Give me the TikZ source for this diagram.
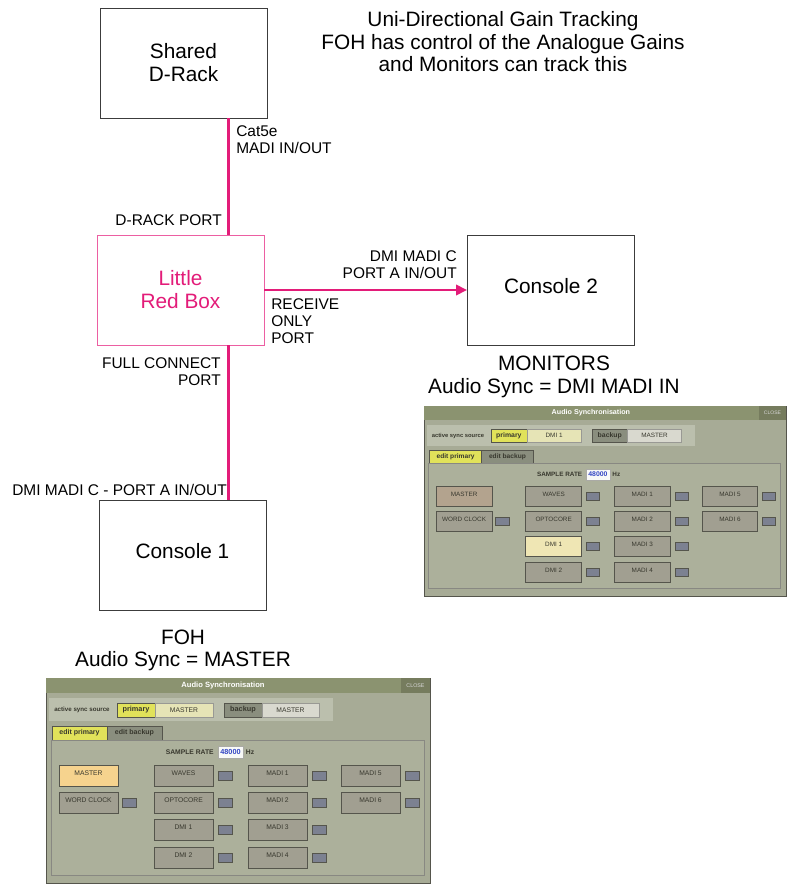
\documentclass[tikz,border=0pt]{standalone}
\usepackage{fontspec}
\setmainfont{Liberation Sans}
\usetikzlibrary{positioning,arrows.meta}
\definecolor{lrbpink}{HTML}{E31C79}
\definecolor{lrbedge}{HTML}{EC5FA2}
\definecolor{boxedge}{HTML}{3C3C3C}
\definecolor{sptitle}{HTML}{8B9370}
\definecolor{spclose}{HTML}{767C5E}
\definecolor{spbody}{HTML}{A7AB96}
\definecolor{sprow}{HTML}{BBBFAD}
\definecolor{spinner}{HTML}{ACB09B}
\definecolor{spbtn}{HTML}{A19F91}
\definecolor{spedge}{HTML}{55554C}
\definecolor{spled}{HTML}{7C8191}
\definecolor{spyellow}{HTML}{E1E25A}
\definecolor{sppale}{HTML}{E6E4B6}
\definecolor{spgrey}{HTML}{D9D9CF}
\definecolor{spdark}{HTML}{8A8E7E}
\definecolor{sptan}{HTML}{B3A38E}
\definecolor{sporange}{HTML}{F6D38E}
\definecolor{spcream}{HTML}{EFE6B4}
\definecolor{sptext}{HTML}{38382E}
\definecolor{spblue}{HTML}{3346C4}
\tikzset{
  unit/.style={draw=boxedge,line width=0.65pt,minimum width=4.175cm,minimum height=2.75cm,
               align=center,font=\fontsize{14.8}{16.4}\selectfont},
  link/.style={draw=lrbpink,line width=1.5pt},
  tag/.style={inner sep=0pt,font=\fontsize{11}{12.1}\selectfont},
  heading/.style={inner sep=0pt,align=center,font=\fontsize{14.8}{16}\selectfont},
  sptiny/.style={inner sep=0pt,text=sptext,font=\fontsize{4.8}{5}\selectfont},
}
% #1,#2 top left, #3,#4 scale, #5 primary source, #6 MASTER fill, #7 DMI 1 fill, #8 name prefix
\newcommand{\syncpanel}[8]{%
  \begin{scope}[shift={(#1,#2)},xscale=#3,yscale=#4,transform shape]
  % frame and title bar
  \filldraw[fill=spbody,draw=spedge,line width=0.4pt] (0,0) rectangle (384,205);
  \fill[sptitle] (0,0) rectangle (384,15);
  \fill[spclose] (355,0) rectangle (384,15);
  \node[sptiny,text=white,font=\fontsize{5.4}{6}\selectfont\bfseries] (#8title) at (177,7.5){Audio Synchronisation};
  \node[sptiny,text=white!85!black,font=\fontsize{3.8}{4}\selectfont] (#8close) at (369.5,7.5){CLOSE};
  % active sync source
  \fill[sprow] (3,20) rectangle (287,43);
  \node[sptiny,anchor=west,font=\fontsize{4.4}{5}\selectfont\bfseries] (#8src) at (8,32){active sync source};
  \filldraw[fill=spyellow,draw=spedge,line width=0.4pt] (71,25) rectangle (109,39);
  \filldraw[fill=sppale,draw=spedge!60,line width=0.3pt] (109,25) rectangle (167,39);
  \filldraw[fill=spdark,draw=spedge,line width=0.4pt] (178,25) rectangle (216,39);
  \filldraw[fill=spgrey,draw=spedge!60,line width=0.3pt] (216,25) rectangle (273,39);
  \node[sptiny,font=\fontsize{5.2}{6}\selectfont\bfseries] (#8pri) at (90,32){primary};
  \node[sptiny] (#8prisrc) at (138,32){#5};
  \node[sptiny,font=\fontsize{5.2}{6}\selectfont\bfseries] (#8bak) at (197,32){backup};
  \node[sptiny] (#8baksrc) at (244.5,32){MASTER};
  % tabs
  \filldraw[fill=spyellow,draw=spedge,line width=0.4pt] (6,48) rectangle (61,62);
  \filldraw[fill=spdark,draw=spedge,line width=0.4pt] (61,48) rectangle (116,62);
  \node[sptiny,font=\fontsize{5}{6}\selectfont\bfseries] (#8tabp) at (33.5,55){edit primary};
  \node[sptiny,font=\fontsize{5}{6}\selectfont\bfseries] (#8tabb) at (88.5,55){edit backup};
  % inner panel
  \filldraw[fill=spinner,draw=spedge!70,line width=0.4pt] (5,62) rectangle (378,197);
  \node[sptiny,anchor=east,font=\fontsize{4.8}{5}\selectfont\bfseries] (#8rate) at (168,74){SAMPLE RATE};
  \filldraw[fill=white!92!spinner,draw=spedge!50,line width=0.3pt] (172,68) rectangle (197,80);
  \node[sptiny,text=spblue,font=\fontsize{5.2}{6}\selectfont\bfseries] (#8hz) at (184.5,74){48000};
  \node[sptiny,font=\fontsize{4.8}{5}\selectfont\bfseries] (#8unit) at (204,74){Hz};
  % source buttons
  \foreach \bx/\by/\bl/\bc [count=\bi] in {13/87/MASTER/#6, 13/114/WORD CLOCK/spbtn,
      108/87/WAVES/spbtn, 108/114/OPTOCORE/spbtn, 108/141/DMI 1/#7, 108/169/DMI 2/spbtn,
      202/87/MADI 1/spbtn, 202/114/MADI 2/spbtn, 202/141/MADI 3/spbtn, 202/169/MADI 4/spbtn,
      295/87/MADI 5/spbtn, 295/114/MADI 6/spbtn}{
    \filldraw[fill=\bc,draw=spedge,line width=0.5pt] (\bx,\by) rectangle ++(59,21);
    \node[sptiny] (#8b\bi) at (\bx+29.5,\by+8.5){\bl};}
  \foreach \lx/\ly in {76/114, 172/87, 172/114, 172/141, 172/169,
      266/87, 266/114, 266/141, 266/169, 359/87, 359/114}{
    \filldraw[fill=spled,draw=spedge,line width=0.4pt] (\lx,\ly+6) rectangle ++(14,9);}
  \end{scope}}

\begin{document}
\begin{tikzpicture}[x=0.025cm,y=-0.025cm]
  \fill[white] (0,0) rectangle (787,887);
  \useasboundingbox (0,0) rectangle (787,887);
  % ---------- units ----------
  \node[unit] (drack) at (183.5,63) {Shared\\D-Rack};
  \node[unit,draw=lrbedge,line width=0.6pt,text=lrbpink] (lrb) at (180.5,290) {Little\\Red Box};
  \node[unit] (con2) at (551,290) {\raisebox{6pt}{Console 2}};
  \node[unit] (con1) at (182.5,555) {\raisebox{6pt}{Console 1}};
  % ---------- links ----------
  \coordinate (tap) at (228.5,0);
  \draw[link] (drack.south -| tap) -- (lrb.north -| tap);
  \draw[link] (lrb.south -| tap) -- (con1.north -| tap);
  \draw[link,-{Triangle[length=7.8pt,width=7.4pt]}] (lrb.east) -- (con2.west);
  % ---------- port labels ----------
  \node[tag,anchor=west,align=left] (cable) at (236,139.5) {Cat5e\\MADI IN/OUT};
  \node[tag,anchor=east] (drport) at (222,220) {D-RACK PORT};
  \node[tag,anchor=east,align=right] (madic) at (457,264.5) {DMI MADI C\\PORT A IN/OUT};
  \node[tag,anchor=west,align=left] (recv) at (271,321) {RECEIVE\\ONLY\\PORT};
  \node[tag,anchor=east,align=right] (full) at (221,371.5) {FULL CONNECT\\PORT};
  \node[tag,anchor=west] (foot) at (12,490) {DMI MADI C - PORT A IN/OUT};
  % ---------- headings ----------
  \node[heading] (title) at (503,42) {Uni-Directional Gain Tracking\\FOH has control of the Analogue Gains\\and Monitors can track this};
  \node[heading] (mon) at (554,377) {MONITORS\\Audio Sync = DMI MADI IN};
  \node[heading] (foh) at (183,650.5) {FOH\\Audio Sync = MASTER};
  % ---------- sync panels ----------
  \syncpanel{424}{406}{0.943}{0.927}{DMI 1}{sptan}{spcream}{mp}
  \syncpanel{46}{678}{1}{1}{MASTER}{sporange}{spbtn}{fp}
\end{tikzpicture}
\end{document}
